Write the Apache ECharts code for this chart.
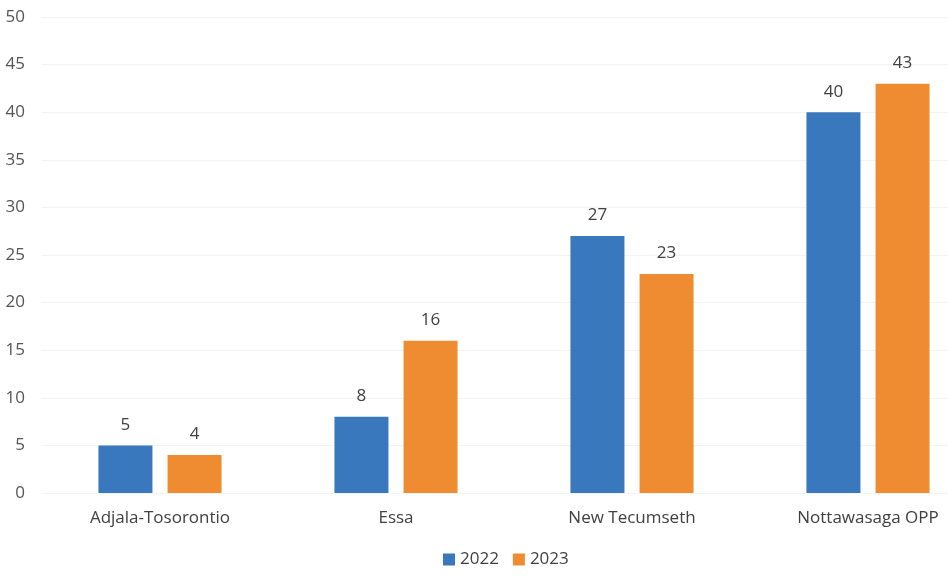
<!DOCTYPE html>
<html>
<head>
<meta charset="utf-8">
<script src="https://cdn.jsdelivr.net/npm/echarts@6/dist/echarts.min.js"></script>
<style>
  html, body { margin: 0; padding: 0; background: #ffffff; overflow: hidden; }
  #chart { width: 986px; height: 579px; }
</style>
</head>
<body>
<div id="chart"></div>
<script>
// Detachments compared across two years
const categories = ['Adjala-Tosorontio', 'Essa', 'New Tecumseth', 'Nottawasaga OPP'];
const values2022 = [5, 8, 27, 40];
const values2023 = [4, 16, 23, 43];
const seriesNames = ['2022', '2023'];

const textColor = '#404040';
const font = '"Open Sans", "Liberation Sans", sans-serif';

const chart = echarts.init(document.getElementById('chart'), null, { renderer: 'canvas' });

const valueLabel = {
  show: true,
  position: 'top',
  distance: 12,
  color: textColor,
  fontSize: 17,
  fontFamily: font
};

chart.setOption({
  animation: false,
  backgroundColor: '#ffffff',
  grid: { left: 42, right: 0, top: 17, bottom: 86, containLabel: false },
  legend: {
    bottom: 6,
    left: 438,
    itemWidth: 12,
    itemHeight: 12,
    itemGap: 14,
    icon: 'rect',
    textStyle: { color: textColor, fontSize: 17, fontFamily: font },
    data: seriesNames
  },
  xAxis: {
    type: 'category',
    data: categories,
    axisLine: { show: false },
    axisTick: { show: false },
    axisLabel: { color: textColor, fontSize: 17, fontFamily: font, margin: 17 }
  },
  yAxis: {
    type: 'value',
    min: 0,
    max: 50,
    interval: 5,
    axisLine: { show: false },
    axisTick: { show: false },
    axisLabel: { color: '#555555', fontSize: 17, fontFamily: font, margin: 17 },
    splitLine: { lineStyle: { color: '#f3f3f3', width: 1 } }
  },
  series: [
    {
      name: seriesNames[0],
      type: 'bar',
      data: values2022,
      barWidth: 54,
      barGap: '28%',
      itemStyle: { color: '#3a78bd' },
      label: valueLabel
    },
    {
      name: seriesNames[1],
      type: 'bar',
      data: values2023,
      barWidth: 54,
      barGap: '28%',
      itemStyle: { color: '#ef8c32' },
      label: valueLabel
    }
  ]
});
</script>
</body>
</html>
